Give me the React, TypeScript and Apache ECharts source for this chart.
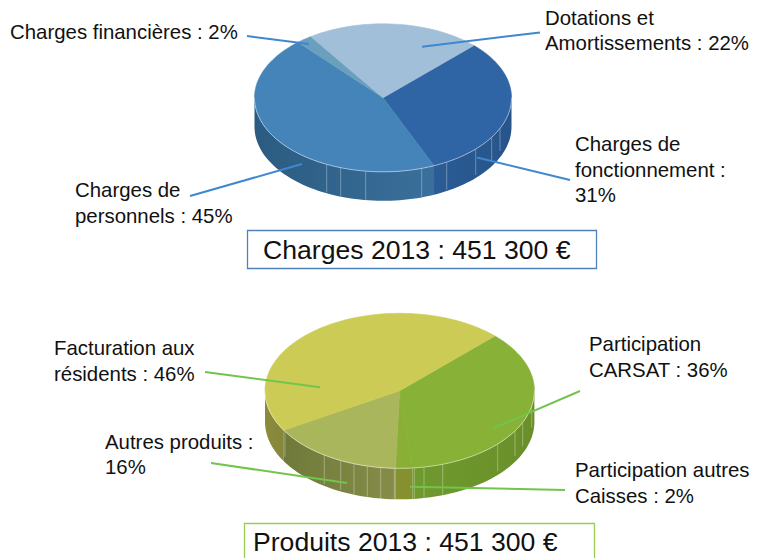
import React, { useEffect, useRef } from "react";
import * as echarts from "echarts";

// ---- data ----
const chargeCategories = ["Charges de fonctionnement", "Charges de personnels", "Charges financières", "Dotations et Amortissements"];
const chargeValues = [31, 45, 2, 22];
const produitCategories = ["Participation CARSAT", "Participation autres Caisses", "Autres produits", "Facturation aux résidents"];
const produitValues = [36, 2, 16, 46];
const chargesTitle = "Charges 2013 : 451 300 €";
const produitsTitle = "Produits 2013 : 451 300 €";

const chargeLabels = [
  { left: 575, lines: ["Charges de", "fonctionnement :", "31%"], ys: [144, 170, 195] },
  { left: 75, lines: ["Charges de", "personnels : 45%"], ys: [190, 216] },
  { left: 10, lines: ["Charges financières : 2%"], ys: [32] },
  { left: 545, lines: ["Dotations et", "Amortissements : 22%"], ys: [18, 43] },
];
const produitLabels = [
  { left: 589, lines: ["Participation", "CARSAT : 36%"], ys: [344, 370] },
  { left: 575, lines: ["Participation autres", "Caisses : 2%"], ys: [470, 496] },
  { left: 105, lines: ["Autres produits :", "16%"], ys: [442, 467] },
  { left: 54, lines: ["Facturation aux", "résidents : 46%"], ys: [348, 374] },
];
const chargeLeaders = [
  [[570, 180], [477, 157.5]],
  [[190, 196], [302, 164]],
  [[247, 36], [309, 44]],
  [[540, 32.5], [422, 46.7]],
];
const produitLeaders = [
  [[580, 391], [493, 428.5]],
  [[565, 490], [410, 486.7]],
  [[211, 463], [347, 483]],
  [[205, 372], [320, 387.3]],
];

// ---- layout and style ----
const START_DEG = 45;
const chargeGeo = { cx: 383, cy: 97.8, rx: 128.5, ry: 74, depth: 29 };
const produitGeo = { cx: 399.7, cy: 390.8, rx: 134.7, ry: 77.5, depth: 31 };
const chargeTop = ["#3065a5", "#4484b8", "#6a9fbe", "#a2bfd9"];
const produitTop = ["#88b138", "#8aaf35", "#aab65c", "#cbcb55"];
const chargeWall = [
  ["#2b5c95", "#27548a"],
  ["#2b5b80", "#3a709c"],
  ["#4a7f9f", "#4a7f9f"],
  ["#7a97b0", "#7a97b0"],
];
const produitWall = [
  ["#6f9a2e", "#6a8f2a"],
  ["#85902f", "#85902f"],
  ["#6f7a3a", "#868c48"],
  ["#8a8b3a", "#85873a"],
];
const chargeStreakX = [326.7, 340.7, 365.7, 421.7, 446.7, 475.7, 491.7, 500];
const produitStreakX = [285, 324.3, 340.7, 354, 367.3, 380.7, 394.3, 414.3, 424, 442.7, 497.7, 515, 522.7, 531.7];

type Geo = { cx: number; cy: number; rx: number; ry: number; depth: number };

const pt = (g: Geo, deg: number, dy = 0): number[] => {
  const a = (deg * Math.PI) / 180;
  return [g.cx + g.rx * Math.sin(a), g.cy - g.ry * Math.cos(a) + dy];
};

const sliceRanges = (values: number[]) => {
  const total = values.reduce((s, v) => s + v, 0);
  let acc = START_DEG;
  return values.map((v) => {
    const from = acc;
    acc += (v / total) * 360;
    return [from, acc];
  });
};

const arcPoints = (g: Geo, from: number, to: number, dy = 0) => {
  const n = Math.max(2, Math.ceil((to - from) / 2));
  const out: number[][] = [];
  for (let i = 0; i <= n; i++) out.push(pt(g, from + ((to - from) * i) / n, dy));
  return out;
};

// Part of a slice's arc that faces the viewer (90° to 270° clockwise from the top).
const frontRanges = (from: number, to: number) => {
  const res: number[][] = [];
  for (const shift of [0, 360]) {
    const a = Math.max(from, 90 + shift);
    const b = Math.min(to, 270 + shift);
    if (b > a) res.push([a, b]);
  }
  return res;
};

const wallSeries = (g: Geo, values: number[], colors: string[][], name: string) => {
  const ranges = sliceRanges(values);
  return {
    type: "custom",
    name,
    coordinateSystem: "none",
    silent: true,
    z: 1,
    data: values,
    renderItem: (params: any) => {
      const [from, to] = ranges[params.dataIndex];
      const c = colors[params.dataIndex];
      const children: any[] = [];
      for (const [a, b] of frontRanges(from, to)) {
        const top = arcPoints(g, a, b);
        const bottom = arcPoints(g, a, b, g.depth).reverse();
        children.push({
          type: "polygon",
          shape: { points: [...top, ...bottom] },
          style: {
            fill: new echarts.graphic.LinearGradient(0, 0, 1, 0, [
              { offset: 0, color: c[0] },
              { offset: 1, color: c[1] },
            ]),
            stroke: "none",
          },
        });
      }
      return { type: "group", children };
    },
  };
};

const streakSeries = (g: Geo, xs: number[], name: string) => ({
  type: "custom",
  name,
  coordinateSystem: "none",
  silent: true,
  z: 2,
  data: xs,
  renderItem: (_p: any, api: any) => {
    const x = api.value(0);
    const u = (x - g.cx) / g.rx;
    const y = g.cy + g.ry * Math.sqrt(Math.max(0, 1 - u * u));
    return {
      type: "line",
      shape: { x1: x, y1: y, x2: x, y2: y + g.depth * (0.62 + 0.38 * Math.sqrt(Math.max(0, 1 - u * u))) },
      style: { stroke: "rgba(255,255,255,0.32)", lineWidth: 1 },
    };
  },
});

const topSeries = (g: Geo, values: number[], colors: string[], name: string) => {
  const ranges = sliceRanges(values);
  return {
    type: "custom",
    name,
    coordinateSystem: "none",
    silent: true,
    z: 3,
    data: values,
    renderItem: (params: any) => {
      const [from, to] = ranges[params.dataIndex];
      const fill = colors[params.dataIndex];
      return {
        type: "polygon",
        shape: { points: [[g.cx, g.cy], ...arcPoints(g, from, to)] },
        style: { fill, stroke: fill, lineWidth: 0.6 },
      };
    },
  };
};

const rimSeries = (g: Geo, name: string) => ({
  type: "custom",
  name,
  coordinateSystem: "none",
  silent: true,
  z: 4,
  data: [1],
  renderItem: () => ({
    type: "polyline",
    shape: { points: arcPoints(g, 90, 270) },
    style: { stroke: "rgba(255,255,255,0.45)", lineWidth: 1, fill: "none" },
  }),
});

const FONT = '"Liberation Sans", Arial, sans-serif';

const textEls = (labels: { left: number; lines: string[]; ys: number[] }[]) =>
  labels.flatMap((l) =>
    l.lines.map((line, i) => ({
      type: "text",
      x: l.left,
      y: l.ys[i],
      z: 20,
      style: { text: line, fill: "#111111", font: `20.4px ${FONT}`, textAlign: "left", textVerticalAlign: "middle" },
    }))
  );

const leaderEls = (leaders: number[][][], color: string) =>
  leaders.map(([a, b]) => ({
    type: "line",
    z: 15,
    shape: { x1: a[0], y1: a[1], x2: b[0], y2: b[1] },
    style: { stroke: color, lineWidth: 2 },
  }));

const boxEls = (x: number, y: number, w: number, h: number, color: string, tx: number, ty: number, text: string) => [
  { type: "rect", z: 10, shape: { x, y, width: w, height: h }, style: { fill: "#ffffff", stroke: color, lineWidth: 1.3 } },
  {
    type: "text",
    z: 20,
    x: tx,
    y: ty,
    style: { text, fill: "#111111", font: `26.6px ${FONT}`, textAlign: "left", textVerticalAlign: "middle" },
  },
];

export default function App() {
  const ref = useRef<HTMLDivElement>(null);
  useEffect(() => {
    if (!ref.current) return;
    const chart = echarts.init(ref.current, undefined, { renderer: "svg" });
    chart.setOption({
      animation: false,
      backgroundColor: "#ffffff",
      series: [
        wallSeries(chargeGeo, chargeValues, chargeWall, "Charges (flanc)"),
        streakSeries(chargeGeo, chargeStreakX, "Charges (reflets)"),
        { ...topSeries(chargeGeo, chargeValues, chargeTop, "Charges"), itemName: chargeCategories },
        rimSeries(chargeGeo, "Charges (bord)"),
        wallSeries(produitGeo, produitValues, produitWall, "Produits (flanc)"),
        streakSeries(produitGeo, produitStreakX, "Produits (reflets)"),
        { ...topSeries(produitGeo, produitValues, produitTop, "Produits"), itemName: produitCategories },
        rimSeries(produitGeo, "Produits (bord)"),
      ],
      graphic: [
        ...leaderEls(chargeLeaders, "#3f87cf"),
        ...leaderEls(produitLeaders, "#72c44c"),
        ...textEls(chargeLabels),
        ...textEls(produitLabels),
        ...boxEls(247.5, 230.5, 349, 38, "#4f81bd", 263, 250, chargesTitle),
        ...boxEls(244.5, 523.5, 350, 40, "#9bcb50", 253, 542, produitsTitle),
      ],
    });
    return () => chart.dispose();
  }, []);
  return <div ref={ref} style={{ position: "absolute", left: 0, top: 0, width: 761, height: 558, overflow: "hidden" }} />;
}
